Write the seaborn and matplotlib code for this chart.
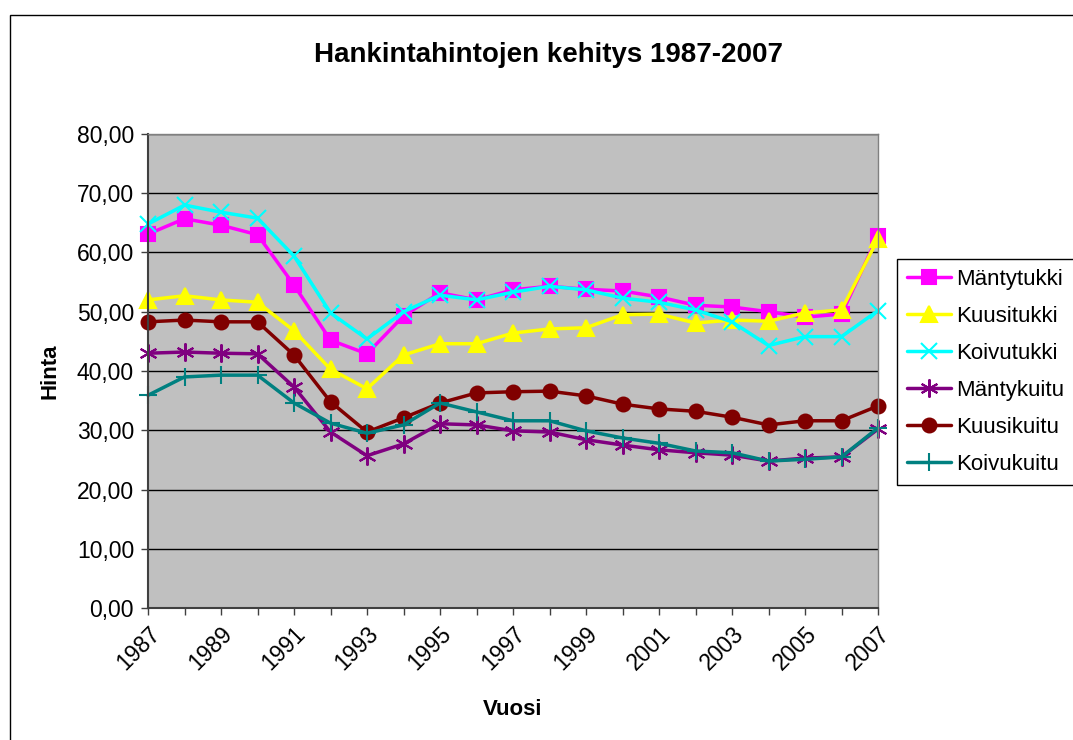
"""Hankintahintojen kehitys 1987-2007 -- Excel-style line chart."""

import matplotlib
matplotlib.use('Agg')
import matplotlib.pyplot as plt
from matplotlib.patches import Rectangle
from matplotlib.ticker import FuncFormatter, MultipleLocator
import seaborn as sns
import pandas as pd

years = list(range(1987, 2008))

mantytukki = [63.1, 65.7, 64.6, 63.0, 54.5, 45.2, 42.9, 49.3, 53.2, 52.0, 53.7,
              54.3, 53.8, 53.5, 52.5, 51.1, 50.8, 50.0, 49.1, 49.6, 62.8]
kuusitukki = [52.0, 52.7, 52.0, 51.6, 46.8, 40.3, 37.0, 42.7, 44.6, 44.6, 46.4,
              47.1, 47.3, 49.5, 49.6, 48.1, 48.6, 48.4, 49.8, 50.3, 62.3]
koivutukki = [64.8, 68.0, 66.8, 65.8, 59.4, 49.8, 45.4, 50.0, 52.8, 52.0, 53.3,
              54.3, 53.7, 52.3, 51.6, 50.3, 48.3, 44.3, 45.8, 45.8, 50.2]
mantykuitu = [43.0, 43.2, 43.0, 42.9, 37.3, 29.7, 25.7, 27.7, 31.1, 30.9, 29.9,
              29.7, 28.4, 27.5, 26.7, 26.2, 25.8, 24.8, 25.3, 25.5, 30.2]
kuusikuitu = [48.3, 48.6, 48.3, 48.3, 42.7, 34.8, 29.7, 32.1, 34.6, 36.3, 36.5,
              36.6, 35.8, 34.4, 33.6, 33.2, 32.2, 30.9, 31.6, 31.6, 34.1]
koivukuitu = [35.9, 39.0, 39.3, 39.3, 34.6, 31.2, 29.5, 30.9, 34.6, 33.1, 31.6,
              31.6, 29.9, 28.7, 27.8, 26.5, 26.2, 24.8, 25.1, 25.5, 30.4]

series_names = ['Mäntytukki', 'Kuusitukki', 'Koivutukki',
                'Mäntykuitu', 'Kuusikuitu', 'Koivukuitu']
series_values = [mantytukki, kuusitukki, koivutukki,
                 mantykuitu, kuusikuitu, koivukuitu]

colors = ['#FF00FF', '#FFFF00', '#00FFFF', '#800080', '#800000', '#008080']
markers = ['s', '^', 'x', (6, 2, 0), 'o', '+']
marker_sizes = [10, 11, 12, 13, 10, 13]

sns.set_style('white')
plt.rcParams['font.family'] = ['Liberation Sans', 'DejaVu Sans']
plt.rcParams['text.color'] = 'black'
plt.rcParams['axes.labelcolor'] = 'black'
plt.rcParams['xtick.color'] = 'black'
plt.rcParams['ytick.color'] = 'black'

fig = plt.figure(figsize=(10.73, 7.40), dpi=100)
ax = fig.add_axes([148 / 1073, 1 - 608 / 740, 730 / 1073, 474 / 740])
ax.set_facecolor('#C0C0C0')

for name, vals, col, mk, ms in zip(series_names, series_values, colors,
                                   markers, marker_sizes):
    df = pd.DataFrame({'Vuosi': years, 'Hinta': vals})
    sns.lineplot(data=df, x='Vuosi', y='Hinta', ax=ax, color=col,
                 linewidth=2.5, marker=mk, markersize=ms,
                 markeredgecolor=col, markeredgewidth=1.5,
                 label=name, clip_on=False)

ax.set_xlim(1987, 2007)
ax.set_ylim(0, 80)
ax.yaxis.set_major_locator(MultipleLocator(10))
ax.yaxis.set_major_formatter(FuncFormatter(lambda v, p: f'{v:.2f}'.replace('.', ',')))
ax.set_xticks(years[::2])
ax.set_xticks(years, minor=True)
ax.grid(axis='y', color='black', linewidth=1)
ax.set_axisbelow(True)

for side in ['top', 'right']:
    ax.spines[side].set_color('#808080')
    ax.spines[side].set_linewidth(1)
for side in ['left', 'bottom']:
    ax.spines[side].set_color('#404040')
    ax.spines[side].set_linewidth(1.5)

ax.tick_params(axis='both', which='both', direction='out', length=5,
               color='#404040', width=1, bottom=True, left=True)
ax.tick_params(axis='y', labelsize=16.5, pad=5)
ax.tick_params(axis='x', labelsize=16.5, pad=5)
plt.setp(ax.get_xticklabels(), rotation=45, ha='right', va='top',
         rotation_mode='anchor')

ax.set_xlabel('Vuosi', fontsize=16, fontweight='bold', labelpad=18)
ax.set_ylabel('Hinta', fontsize=16, fontweight='bold', labelpad=12)
fig.text(548 / 1073, 1 - 55 / 740, 'Hankintahintojen kehitys 1987-2007',
         ha='center', va='center', fontsize=20, fontweight='bold')

leg = ax.legend(loc='upper left', bbox_to_anchor=(897 / 1073, 1 - 259 / 740),
                bbox_transform=fig.transFigure, frameon=True, fancybox=False,
                framealpha=1, edgecolor='black', fontsize=16,
                handlelength=2.0, handletextpad=0.2, labelspacing=0.72,
                borderpad=0.45, borderaxespad=0)
leg.get_frame().set_linewidth(1)

fig.patches.append(Rectangle((10 / 1073, -0.05), 1.1, 1.05 - 15 / 740,
                             transform=fig.transFigure, fill=False,
                             edgecolor='black', linewidth=1))

plt.savefig('out.png', dpi=100)
plt.close()
